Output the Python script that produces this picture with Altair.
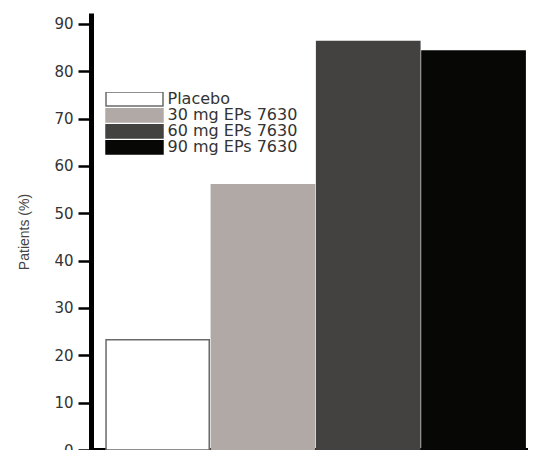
import altair as alt
import pandas as pd

groups = ["Placebo", "30 mg EPs 7630", "60 mg EPs 7630", "90 mg EPs 7630"]
values = [23.3, 56.0, 86.3, 84.3]
fills = ["#ffffff", "#b1a9a6", "#434241", "#070706"]
strokes = ["#6a6a6a", "#b1a9a6", "#434241", "#070706"]
y_ticks = [0, 10, 20, 30, 40, 50, 60, 70, 80, 90]

df = pd.DataFrame({"group": groups, "value": values})

chart = alt.Chart(df).mark_bar(strokeWidth=1.5).encode(
    x=alt.X(
        "group:N",
        sort=groups,
        scale=alt.Scale(paddingInner=0.02, paddingOuter=0.085, align=0.84),
        axis=alt.Axis(labels=False, ticks=False, title=None, domainWidth=5, domainColor="black"),
    ),
    y=alt.Y(
        "value:Q",
        scale=alt.Scale(domain=[0, 92.3], nice=False),
        axis=alt.Axis(
            values=y_ticks,
            title="Patients (%)",
            titleFont="Liberation Sans",
            titleFontSize=14,
            titleFontWeight="normal",
            titleColor="#444444",
            titlePadding=22,
            labelFont="DejaVu Sans",
            labelFontSize=15,
            labelColor="#333333",
            labelPadding=5,
            tickSize=13,
            tickWidth=2.5,
            tickColor="black",
            domainWidth=5,
            domainColor="black",
            grid=False,
        ),
    ),
    fill=alt.Fill(
        "group:N",
        sort=groups,
        scale=alt.Scale(domain=groups, range=fills),
        legend=alt.Legend(
            title=None,
            orient="none",
            legendX=13,
            legendY=79,
            symbolType="M-4,-0.98H4V0.98H-4Z",
            symbolSize=203,
            symbolStrokeWidth=1.5,
            symbolOffset=22.5,
            labelFont="DejaVu Sans",
            labelFontSize=16,
            labelColor="#333333",
            labelOffset=25,
            clipHeight=14,
            rowPadding=0,
            padding=0,
        ),
    ),
    stroke=alt.Stroke(
        "group:N",
        sort=groups,
        scale=alt.Scale(domain=groups, range=strokes),
        legend=None,
    ),
).properties(
    width=437,
    height=437,
    autosize=alt.AutoSizeParams(type="none"),
    padding={"left": 83, "top": 5, "right": 0, "bottom": 0},
).configure_view(stroke=None).configure_legend(rowPadding=0)

chart.save("out.html", embed_options={"renderer": "svg", "actions": False})
